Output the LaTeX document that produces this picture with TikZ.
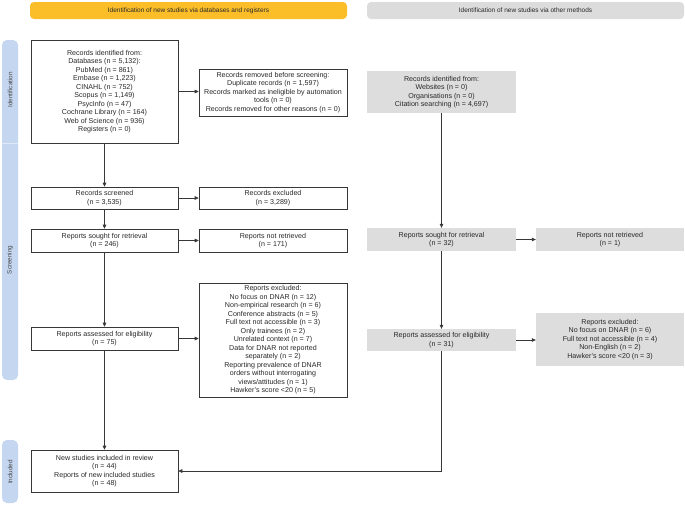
\documentclass[tikz,border=0pt]{standalone}
\usepackage{fontspec}
\setmainfont{Liberation Sans}
\usetikzlibrary{arrows.meta}
\definecolor{ylw}{RGB}{251,190,40}
\definecolor{gban}{RGB}{220,220,220}
\definecolor{gbox}{RGB}{221,221,221}
\definecolor{barc}{RGB}{197,214,240}
\definecolor{ln}{RGB}{55,55,55}
\definecolor{txt}{RGB}{40,40,40}
\begin{document}
\begin{tikzpicture}[x=1pt,y=-1pt,
  wbox/.style={draw=ln, line width=0.6pt, fill=white, align=center, inner sep=1pt, text=txt,
    font=\fontsize{7.1}{8.5}\selectfont},
  gray box/.style={fill=gbox, align=center, inner sep=1pt, text=txt,
    font=\fontsize{7.1}{8.5}\selectfont},
  banner/.style={rounded corners=4pt, minimum width=317, minimum height=17, inner sep=0pt,
    text=txt, font=\fontsize{6.5}{7.5}\selectfont},
  sidelabel/.style={rotate=90, text=txt!85!white, font=\fontsize{6.3}{7}\selectfont, inner sep=0pt},
  conn/.style={draw=ln, line width=0.6pt, -{Triangle[length=4pt,width=3.6pt]}},
  plain/.style={draw=ln, line width=0.6pt}]
\useasboundingbox (0,0) rectangle (685,504);

% banners
\node[banner, fill=ylw] (b1) at (188.5,10.5) {Identification of new studies via databases and registers};
\node[banner, fill=gban] (b2) at (525.5,10.5) {Identification of new studies via other methods};

% side bars
\fill[barc, rounded corners=5pt] (2,40) rectangle (18,380);
\draw[barc!55!white, line width=0.5pt] (2,143) -- (18,143);
\fill[barc, rounded corners=5pt] (2,440) rectangle (18,503);
\node[sidelabel] (sid) at (10,90) {Identification};
\node[sidelabel] (sscr) at (10,260) {Screening};
\node[sidelabel] (sinc) at (10,472) {Included};

% left column
\node[wbox, minimum width=147, minimum height=103] (id) at (104.5,91.5)
 {Records identified from:\\Databases (n = 5,132):\\PubMed (n = 861)\\Embase (n = 1,223)\\CINAHL (n = 752)\\Scopus (n = 1,149)\\PsycInfo (n = 47)\\Cochrane Library (n = 164)\\Web of Science (n = 936)\\Registers (n = 0)};
\node[wbox, minimum width=148, minimum height=47] (rem) at (273,92.5)
 {Records removed before screening:\\Duplicate records (n = 1,597)\\Records marked as ineligible by automation\\tools (n = 0)\\Records removed for other reasons (n = 0)};
\node[wbox, minimum width=147, minimum height=22] (scr) at (104.5,198)
 {Records screened\\(n = 3,535)};
\node[wbox, minimum width=148, minimum height=22] (exc) at (273,198)
 {Records excluded\\(n = 3,289)};
\node[wbox, minimum width=147, minimum height=23] (sou) at (104.5,240.5)
 {Reports sought for retrieval\\(n = 246)};
\node[wbox, minimum width=148, minimum height=23] (nret) at (273,240.5)
 {Reports not retrieved\\(n = 171)};
\node[wbox, minimum width=147, minimum height=23] (ass) at (104.5,338.5)
 {Reports assessed for eligibility\\(n = 75)};
\node[wbox, minimum width=148, minimum height=114] (rexc) at (273,340)
 {Reports excluded:\\No focus on DNAR (n = 12)\\Non-empirical research (n = 6)\\Conference abstracts (n = 5)\\Full text not accessible (n = 3)\\Only trainees (n = 2)\\Unrelated context (n = 7)\\Data for DNAR not reported\\separately (n = 2)\\Reporting prevalence of DNAR\\orders without interrogating\\views/attitudes (n = 1)\\Hawker's score <20 (n = 5)};
\node[wbox, minimum width=147, minimum height=42] (inc) at (104.5,471)
 {New studies included in review\\(n = 44)\\Reports of new included studies\\(n = 48)};

% right column
\node[gray box, minimum width=149, minimum height=42] (oid) at (441.5,92)
 {Records identified from:\\Websites (n = 0)\\Organisations (n = 0)\\Citation searching (n = 4,697)};
\node[gray box, minimum width=149, minimum height=23] (osou) at (441.5,239.5)
 {Reports sought for retrieval\\(n = 32)};
\node[gray box, minimum width=148, minimum height=23] (onret) at (610,239.5)
 {Reports not retrieved\\(n = 1)};
\node[gray box, minimum width=149, minimum height=22] (oass) at (441.5,340)
 {Reports assessed for eligibility\\(n = 31)};
\node[gray box, minimum width=148, minimum height=53] (oexc) at (610,339.5)
 {Reports excluded:\\No focus on DNAR (n = 6)\\Full text not accessible (n = 4)\\Non-English (n = 2)\\Hawker's score <20 (n = 3)};

% connectors left
\draw[conn] (id.south) -- (scr.north);
\draw[conn] (id.east) -- (id.east -| rem.west);
\draw[conn] (scr.east) -- (exc.west);
\draw[conn] (scr.south) -- (sou.north);
\draw[conn] (sou.east) -- (nret.west);
\draw[conn] (sou.south) -- (ass.north);
\draw[conn] (ass.east) -- (ass.east -| rexc.west);
\draw[conn] (ass.south) -- (inc.north);

% connectors right
\draw[conn] (oid.south) -- (osou.north);
\draw[conn] (osou.east) -- (onret.west);
\draw[conn] (osou.south) -- (oass.north);
\draw[conn] (oass.east) -- (oass.east -| oexc.west);
\draw[conn] (oass.south) |- (inc.east);
\end{tikzpicture}
\end{document}
